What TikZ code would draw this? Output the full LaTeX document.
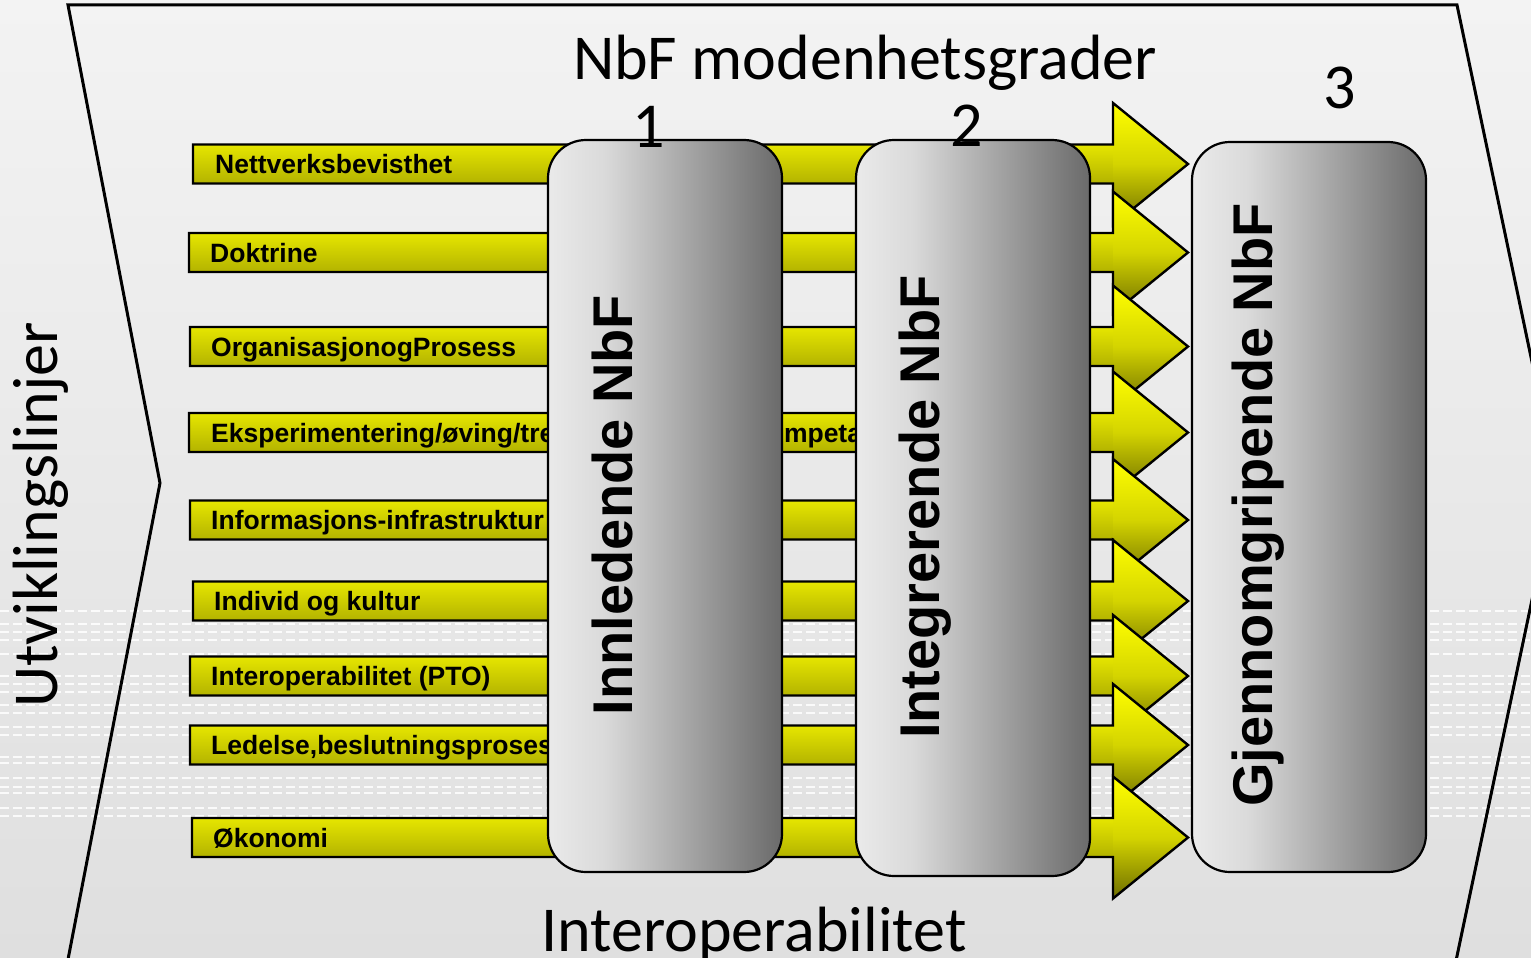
\documentclass[tikz,border=0pt]{standalone}
\usepackage{fontspec}
\setmainfont{Liberation Sans}
\newfontfamily\calfont{Carlito}
\definecolor{bgtop}{HTML}{F3F3F3}
\definecolor{bgbot}{HTML}{DFDFDF}
\definecolor{shafttop}{HTML}{E6E600}
\definecolor{shaftbot}{HTML}{B3B300}
\definecolor{headtop}{HTML}{FFFF00}
\definecolor{headmid}{HTML}{D4D400}
\definecolor{headbot}{HTML}{6E6E00}
\definecolor{grayl}{HTML}{EAEAEA}
\definecolor{graym}{HTML}{DADADA}
\definecolor{grayd}{HTML}{6A6A6A}
\pgfdeclareverticalshading{bgshade}{100bp}{color(0bp)=(bgbot); color(25bp)=(bgbot); color(75bp)=(bgtop); color(100bp)=(bgtop)}
\pgfdeclareverticalshading{yshaft}{100bp}{color(0bp)=(shaftbot); color(25bp)=(shaftbot); color(75bp)=(shafttop); color(100bp)=(shafttop)}
\pgfdeclareverticalshading{yhead}{100bp}{color(0bp)=(headbot); color(25bp)=(headbot); color(50bp)=(headmid); color(75bp)=(headtop); color(100bp)=(headtop)}
\pgfdeclarehorizontalshading{graybox}{100bp}{color(0bp)=(grayl); color(25bp)=(grayl); color(37bp)=(graym); color(75bp)=(grayd); color(100bp)=(grayd)}
\newcommand\yarrow[5]{%
  \shade[shading=yshaft] (#1,-#2+19.5) rectangle (1113,-#2-19.5);
  \shade[shading=yhead] (1113,-#2+61) -- (1188,-#2) -- (1113,-#2-61) -- cycle;
  \draw[arrowline] (#1,-#2+19.5) -- (1113,-#2+19.5) -- (1113,-#2+61) -- (1188,-#2)
     -- (1113,-#2-61) -- (1113,-#2-19.5) -- (#1,-#2-19.5) -- cycle;
  \node[barlabel] (#3) at (#4,-#2-9.5) {#5};
}
\begin{document}
\begin{tikzpicture}[x=1pt,y=1pt,
  barlabel/.style={anchor=base west, inner sep=0pt, font=\fontsize{26.5}{30}\selectfont\bfseries},
  boxlabel/.style={anchor=base, inner sep=0pt, rotate=90, font=\fontsize{56}{60}\selectfont\bfseries},
  caltext/.style={anchor=base, inner sep=0pt, font=\calfont\fontsize{64}{70}\selectfont},
  stagebox/.style={draw=black, line width=2.2pt, rounded corners=38pt, shading=graybox},
  arrowline/.style={draw=black, line width=2.4pt, line join=miter},
  bgdash/.style={white, line width=1.6pt, dash pattern=on 9pt off 4pt, opacity=0.85},
  chevron/.style={draw=black, line width=3pt, line join=miter},
]
\useasboundingbox (0,-958) rectangle (1531,0);
\shade[shading=bgshade] (0,-958) rectangle (1531,0);
\foreach \yy in {611,624,632,640,654,676,684,692,705,713,727,735,757,763,778,787,793,808,816}
  \draw[bgdash] (0,-\yy) -- (1531,-\yy);
\draw[chevron] (68,-5) -- (1457,-5) -- (1557,-481) -- (1453,-975) -- (65,-975) -- (160,-483) -- cycle;

\yarrow{193}{164}{r1}{215}{Nettverksbevisthet}
\yarrow{189}{252.5}{r2}{210}{Doktrine}
\yarrow{190}{346.5}{r3}{211}{OrganisasjonogProsess}
\yarrow{189}{432.5}{r4}{211}{Eksperimentering/øving/trening/utdanning/kompetanse}
\yarrow{190}{520}{r5}{211}{Informasjons-infrastruktur}
\yarrow{193}{601}{r6}{214}{Individ og kultur}
\yarrow{190}{676}{r7}{211}{Interoperabilitet (PTO)}
\yarrow{190}{745}{r8}{211}{Ledelse,beslutningsprosess}
\yarrow{192}{837.5}{r9}{213}{Økonomi}

\shade[stagebox] (548,-140) rectangle (782,-872);
\shade[stagebox] (856,-140) rectangle (1090,-876);
\shade[stagebox] (1192,-142) rectangle (1426,-872);
\node[boxlabel] (b1) at (632,-505) {Innledende NbF};
\node[boxlabel] (b2) at (939,-507) {Integrerende NbF};
\node[boxlabel] (b3) at (1272,-505) {Gjennomgripende NbF};

\node[caltext] (title) at (865,-79) {NbF modenhetsgrader};
\node[caltext] (n1) at (649,-147) {1};
\node[caltext] (n2) at (967,-146) {2};
\node[caltext] (n3) at (1340,-108) {3};
\node[caltext] (interop) at (754,-951) {Interoperabilitet};
\node[caltext, rotate=90] (utv) at (57,-515) {Utviklingslinjer};
\end{tikzpicture}
\end{document}
